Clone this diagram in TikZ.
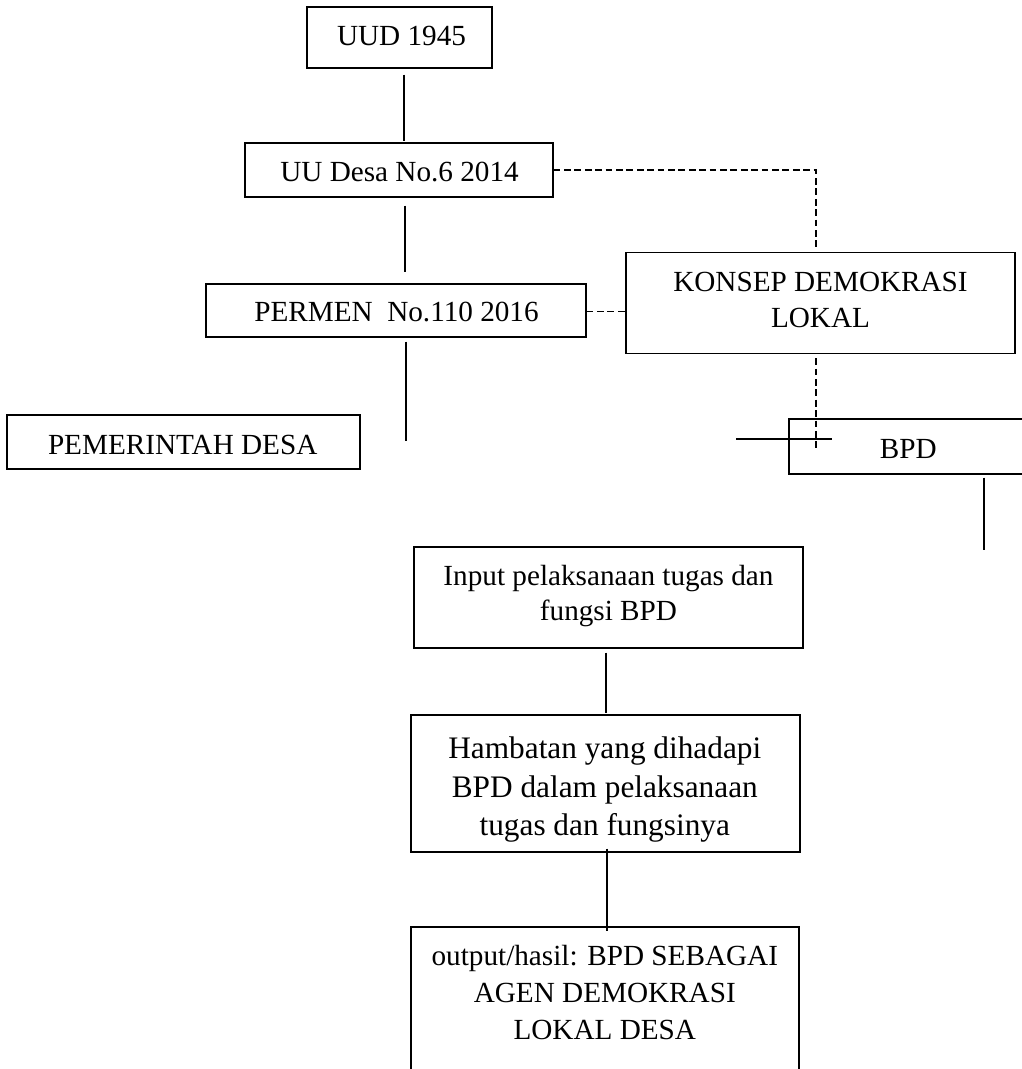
\documentclass[tikz,border=0pt]{standalone}
\usepackage{fontspec}
\setmainfont{Liberation Serif}
\begin{document}
\begin{tikzpicture}[x=1pt,y=-1pt,
  box/.style={draw, line width=1.2pt, rectangle, inner sep=0pt},
  txt/.style={inner sep=0pt, anchor=north, align=center, font=\fontsize{29.2}{35.7}\selectfont},
  conn/.style={line width=1.8pt},
  dsh/.style={line width=1.5pt, dash pattern=on 6.8pt off 3.6pt}]
\useasboundingbox (0,0) rectangle (1022,1069);
\clip (0,0) rectangle (1022,1069);

% boxes
\node[box, minimum width=185pt, minimum height=61pt] (uud) at (399.5,37.5) {};
\node[box, minimum width=308pt, minimum height=54pt] (uudesa) at (399,170) {};
\node[box, minimum width=380pt, minimum height=53pt] (permen) at (396,310.5) {};
\node[box, minimum width=353pt, minimum height=54pt] (pemdes) at (183.5,442) {};
\node[box, minimum width=389pt, minimum height=101pt] (konsep) at (820.5,303) {};
\node[box, minimum width=242pt, minimum height=55pt] (bpd) at (910,446.5) {};
\node[box, minimum width=389pt, minimum height=101pt] (input) at (608.5,597.5) {};
\node[box, minimum width=389pt, minimum height=137pt] (hambatan) at (605.5,783.5) {};
\node[box, minimum width=388pt, minimum height=152pt] (output) at (605,1003) {};

% texts
\node[txt] (uudT) at (401.5,25.5) {UUD 1945};
\node[txt] (uudesaT) at (399.5,161.5) {UU Desa No.6 2014};
\node[txt] (permenT) at (396.5,302.2) {PERMEN\ \ No.110 2016};
\node[txt] (pemdesT) at (182.7,434.5) {PEMERINTAH DESA};
\node[txt] (konsepT) at (820.5,272.4) {KONSEP DEMOKRASI\\LOKAL};
\node[txt] (bpdT) at (908.3,438.8) {BPD};
\node[txt, font=\fontsize{29.2}{35}\selectfont] (inputT) at (608.5,565.5) {Input pelaksanaan tugas dan\\fungsi BPD};
\node[txt, font=\fontsize{31.3}{38.5}\selectfont] (hambatanT) at (604.8,737) {Hambatan yang dihadapi\\BPD dalam pelaksanaan\\tugas dan fungsinya};
\node[txt, font=\fontsize{29.2}{36.7}\selectfont] (outputT) at (604.8,945.5) {output/hasil: BPD SEBAGAI\\AGEN DEMOKRASI\\LOKAL DESA};

% solid connectors
\draw[conn] ([xshift=4.5pt,yshift=-6pt]uud.south) -- ([xshift=5pt,yshift=1pt]uudesa.north);
\draw[conn] ([xshift=6pt,yshift=-8pt]uudesa.south) -- ([xshift=9pt,yshift=11pt]permen.north);
\draw[conn] ([xshift=10pt,yshift=-4pt]permen.south) -- ++(0,99);
\draw[conn] ([xshift=-52pt,yshift=7.5pt]bpd.west) -- ++(96,0);
\draw[conn] ([xshift=74pt,yshift=-3pt]bpd.south) -- ++(0,72);
\draw[conn] ([xshift=-2.5pt,yshift=-4pt]input.south) -- ([xshift=0.5pt,yshift=1pt]hambatan.north);
\draw[conn] ([xshift=1.5pt,yshift=4pt]hambatan.south) -- ([xshift=2pt,yshift=-4.5pt]output.north);

% dashed connectors
\draw[dsh] (uudesa.east) -| ([xshift=-4.5pt,yshift=5pt]konsep.north);
\draw[dsh] ([yshift=-1.2pt]permen.east) -- ([yshift=-1.2pt]permen.east -| konsep.west);
\draw[dsh] ([xshift=-4.5pt,yshift=-4pt]konsep.south) -- ++(0,90.7);
\end{tikzpicture}
\end{document}
